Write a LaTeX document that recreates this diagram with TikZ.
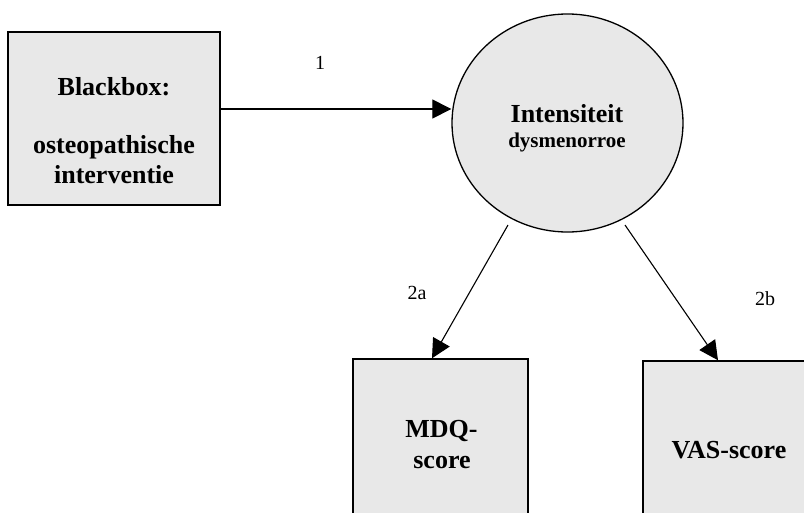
\documentclass[tikz,border=0pt]{standalone}
\usepackage{fontspec}
\setmainfont{Liberation Serif}
\usetikzlibrary{shapes.geometric,arrows.meta,calc}
\begin{document}
\begin{tikzpicture}[x=1pt,y=-1pt,
  boxfill/.style={draw=black,line width=1.5pt,fill=black!9,inner sep=0pt},
  lbl/.style={font=\fontsize{26}{30}\selectfont\bfseries,anchor=base,inner sep=0pt},
  small/.style={font=\fontsize{21}{24}\selectfont\bfseries,anchor=base,inner sep=0pt},
  num/.style={font=\fontsize{20}{24}\selectfont,inner sep=0pt},
  arr/.style={line width=1.1pt,-{Triangle[length=19pt,width=19pt]}}]
\useasboundingbox (0,0) rectangle (804,512);
\clip (0,0) rectangle (804,512);
% boxes
\node[boxfill,minimum width=212pt,minimum height=173pt] (bb) at (114,118.5) {};
\node[lbl] (t1) at (114,95) {Blackbox:};
\node[lbl] (t2) at (114,153) {osteopathische};
\node[lbl] (t3) at (114,183) {interventie};
\node[ellipse,draw=black,line width=1.3pt,fill=black!9,inner sep=0pt,
      minimum width=231pt,minimum height=218pt] (circ) at (567.5,123) {};
\node[lbl] (c1) at (567,122) {Intensiteit};
\node[small] (c2) at (567,147) {dysmenorroe};
\node[boxfill,minimum width=175pt,minimum height=181pt] (mdq) at (440.5,449.5) {};
\node[lbl] (m1) at (441.5,437) {MDQ-};
\node[lbl] (m2) at (442,468) {score};
\node[boxfill,minimum width=172pt,minimum height=179pt] (vas) at (729,450.5) {};
\node[lbl] (v1) at (729,458) {VAS-score};
% connectors
\coordinate (a1) at (0,109);
\coordinate (s2a) at ($(circ.center)+(-59.5,102)$);
\coordinate (s2b) at ($(circ.center)+(57.5,102)$);
\draw[arr] (bb.east |- a1) -- (circ.west |- a1);
\draw[arr] (s2a) -- ($(mdq.north)+(-8.5,0)$);
\draw[arr] (s2b) -- ($(vas.north)+(-11,0)$);
% labels
\node[num] (l1) at (320,63) {1};
\node[num] (l2a) at (417,293) {2a};
\node[num] (l2b) at (765,299) {2b};
\end{tikzpicture}
\end{document}
